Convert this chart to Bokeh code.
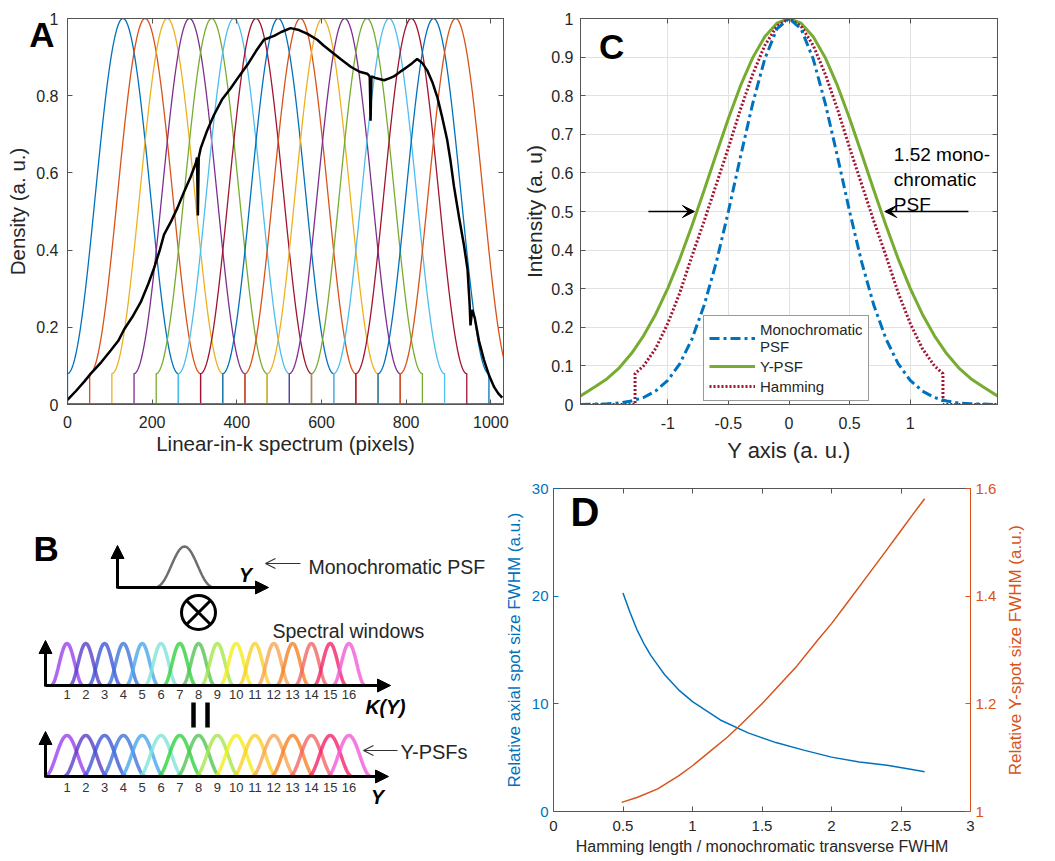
import numpy as np
from bokeh.plotting import figure
from bokeh.models import (Range1d, LinearAxis, Legend, LegendItem, Label, Arrow,
                          VeeHead, OpenHead, NormalHead, FixedTicker, CustomJSTickFormatter)
from bokeh.layouts import column, row
from bokeh.embed import file_html
from bokeh.resources import INLINE
from bokeh.core.properties import value

FONT = "Liberation Sans"
INK = "#262626"
FRAME = "#555555"
FMT = "return (Math.round(tick*1000)/1000).toString();"

# ---------------- Panel A data ----------------
a_x_ticks = [0, 200, 400, 600, 800, 1000]
a_y_ticks = [0, 0.2, 0.4, 0.6, 0.8, 1]
a_window_starts = [0.0, 52.4, 104.8, 157.2, 209.6, 262.0, 314.4, 366.8,
                   419.2, 471.6, 524.0, 576.4, 628.8, 681.2, 733.6, 786.0]
a_window_length = 262.0
a_window_pedestal = 0.08
a_window_colors = ["#0072BD", "#D95319", "#EDB120", "#7E2F8E", "#77AC30", "#4DBEEE", "#A2142F",
                   "#0072BD", "#D95319", "#EDB120", "#7E2F8E", "#77AC30", "#4DBEEE", "#A2142F",
                   "#0072BD", "#D95319"]
a_spec_x = [0, 20, 40, 55, 80, 102, 120, 134, 155, 173, 190, 205, 218, 228, 245, 260, 275, 291,
            303, 306, 308, 310, 315, 330, 346, 365, 386, 405, 425, 445, 464, 488, 505, 527, 547,
            567, 590, 605, 622, 645, 669, 690, 708, 714, 716, 718, 730, 748, 760, 771, 790, 803,
            815, 826, 838, 850, 862, 874, 885, 897, 905, 913, 925, 937, 945, 950, 952, 956, 962,
            972, 984, 996, 1008, 1018, 1027]
a_spec_y = [0.012, 0.035, 0.06, 0.08, 0.11, 0.14, 0.165, 0.195, 0.23, 0.265, 0.31, 0.355, 0.40,
            0.44, 0.475, 0.51, 0.55, 0.59, 0.625, 0.64, 0.49, 0.64, 0.665, 0.71, 0.75, 0.79, 0.82,
            0.85, 0.88, 0.915, 0.945, 0.955, 0.965, 0.975, 0.97, 0.96, 0.945, 0.93, 0.915, 0.895,
            0.875, 0.862, 0.857, 0.85, 0.735, 0.85, 0.845, 0.84, 0.845, 0.85, 0.865, 0.875, 0.885,
            0.895, 0.885, 0.865, 0.835, 0.795, 0.745, 0.685, 0.63, 0.565, 0.485, 0.41, 0.35, 0.26,
            0.205, 0.245, 0.225, 0.165, 0.115, 0.075, 0.045, 0.028, 0.018]

# ---------------- Panel C data ----------------
c_x_ticks = [-1, -0.5, 0, 0.5, 1]
c_y_ticks = [0, 0.1, 0.2, 0.3, 0.4, 0.5, 0.6, 0.7, 0.8, 0.9, 1]
c_x_half = [0, 0.1, 0.2, 0.3, 0.4, 0.5, 0.6, 0.7, 0.8, 0.9, 1.0, 1.1, 1.2, 1.3, 1.4, 1.5, 1.6, 1.72]
c_mono_half = [1, 0.973, 0.895, 0.779, 0.642, 0.5, 0.368, 0.257, 0.170, 0.106, 0.0625, 0.035,
               0.018, 0.009, 0.004, 0.002, 0.001, 0.0]
c_ypsf_half = [1, 0.988, 0.953, 0.898, 0.826, 0.741, 0.649, 0.555, 0.464, 0.378, 0.301, 0.234,
               0.178, 0.132, 0.095, 0.067, 0.046, 0.022]
c_ham_x_half = [0, 0.1, 0.2, 0.3, 0.4, 0.5, 0.6, 0.7, 0.8, 0.9, 1.0, 1.1, 1.2, 1.27, 1.27, 1.4, 1.72]
c_ham_half = [1, 0.98, 0.93, 0.855, 0.765, 0.665, 0.57, 0.475, 0.385, 0.29, 0.21, 0.145, 0.10,
              0.08, 0.0, 0.0, 0.0]
c_legend_labels = ["Monochromatic\nPSF", "Y-PSF", "Hamming"]

# ---------------- Panel D data ----------------
d_x_ticks = [0, 0.5, 1, 1.5, 2, 2.5, 3]
d_left_ticks = [0, 10, 20, 30]
d_right_ticks = [1, 1.2, 1.4, 1.6]
d_axial_x = [0.5, 0.55, 0.6, 0.65, 0.7, 0.75, 0.8, 0.9, 1.0, 1.2, 1.4, 1.6, 1.8, 2.0, 2.2, 2.4, 2.6, 2.67]
d_axial_y = [20.3, 18.5, 16.9, 15.6, 14.5, 13.6, 12.7, 11.3, 10.2, 8.5, 7.3, 6.4, 5.7, 5.05, 4.6,
             4.3, 3.85, 3.7]
d_yspot_x = [0.49, 0.6, 0.75, 0.9, 1.0, 1.1, 1.25, 1.35, 1.5, 1.6, 1.75, 1.9, 2.0, 2.1, 2.25,
             2.4, 2.5, 2.6, 2.67]
d_yspot_y = [1.017, 1.026, 1.042, 1.066, 1.085, 1.106, 1.138, 1.162, 1.200, 1.228, 1.270, 1.318,
             1.349, 1.383, 1.435, 1.487, 1.522, 1.557, 1.581]

# ---------------- Panel B data ----------------
b_window_labels = ["1", "2", "3", "4", "5", "6", "7", "8", "9", "10", "11", "12", "13", "14", "15", "16"]
b_window_colors = ["#9a40f0", "#5a3fc8", "#3f55d8", "#3f75d8", "#4aa6ee", "#7fe3da", "#2fd23f",
                   "#55c455", "#a6e64a", "#f2ee1c", "#f9cf2a", "#f9a453", "#f68224", "#f36565",
                   "#f2266a", "#f35ad8"]


def base_fig(w, h, xr, yr, ml, mr, mt, mb):
    p = figure(width=w, height=h, x_range=xr, y_range=yr, output_backend="svg",
               toolbar_location=None, min_border_left=ml, min_border_right=mr,
               min_border_top=mt, min_border_bottom=mb)
    p.background_fill_color = "white"
    p.border_fill_color = "white"
    p.outline_line_color = FRAME
    return p


def style_axis(ax, ticks, color=INK, size="16px", standoff=8, label=None,
               label_size="17px", label_standoff=5, show=True, line_color=FRAME):
    ax.ticker = FixedTicker(ticks=ticks)
    ax.formatter = CustomJSTickFormatter(code=FMT if show else "return '';")
    ax.major_tick_in = 5
    ax.major_tick_out = 0
    ax.minor_tick_in = 0
    ax.minor_tick_out = 0
    ax.axis_line_color = line_color
    ax.major_tick_line_color = line_color
    ax.major_label_text_color = color
    ax.major_label_text_font = FONT
    ax.major_label_text_font_size = size if show else "0px"
    ax.major_label_standoff = standoff if show else 0
    if label:
        ax.axis_label = label
        ax.axis_label_text_font = FONT
        ax.axis_label_text_font_style = "normal"
        ax.axis_label_text_font_size = label_size
        ax.axis_label_text_color = color
        ax.axis_label_standoff = label_standoff


def panel_letter(p, letter, x, y, size):
    p.add_layout(Label(x=x, y=y, text=letter, text_font=FONT, text_font_style="bold",
                       text_font_size=size, text_color="black", text_baseline="middle"))


# ================= Panel A =================
pA = base_fig(520, 470, Range1d(0, 1030), Range1d(0, 1), 67, 17, 18, 66)
pA.grid.visible = False
style_axis(pA.xaxis[0], a_x_ticks, standoff=11, label="Linear-in-k spectrum (pixels)",
           label_size="20.5px", label_standoff=1)
style_axis(pA.yaxis[0], a_y_ticks, standoff=9, label="Density (a. u.)", label_size="20.5px",
           label_standoff=4)
axA_top = LinearAxis()
style_axis(axA_top, a_x_ticks, show=False)
pA.add_layout(axA_top, "above")
axA_right = LinearAxis()
style_axis(axA_right, a_y_ticks, show=False)
pA.add_layout(axA_right, "right")
# panel letter "A", drawn as the single label of an extra (outer) left axis
axA_letter = LinearAxis(ticker=FixedTicker(ticks=[0.958]),
                        formatter=CustomJSTickFormatter(code="return 'A';"),
                        major_label_text_font=FONT, major_label_text_font_style="bold",
                        major_label_text_font_size="35px", major_label_text_color="black",
                        major_label_standoff=-51, axis_line_color=None,
                        major_tick_line_color=None, minor_tick_line_color=None,
                        major_tick_in=0, major_tick_out=0, minor_tick_in=0, minor_tick_out=0)
pA.add_layout(axA_letter, "left")

t = np.linspace(0, 1, 121)
for s, col in zip(a_window_starts, a_window_colors):
    e = s + a_window_length
    shape = (1 - a_window_pedestal) / 2
    xs = np.concatenate([[-20, s, s], s + t * a_window_length, [e, e, 1100]])
    ys = np.concatenate([[0, 0, a_window_pedestal],
                         (1 - shape) - shape * np.cos(2 * np.pi * t),
                         [a_window_pedestal, 0, 0]])
    pA.line(xs, ys, line_color=col, line_width=1.3)
pA.line(a_spec_x, a_spec_y, line_color="black", line_width=2.5)

# ================= Panel C =================
pC = base_fig(532, 470, Range1d(-1.72, 1.72), Range1d(0, 1), 59, 55, 18, 66)
style_axis(pC.xaxis[0], c_x_ticks, standoff=12, label="Y axis (a. u.)", label_size="22px",
           label_standoff=6)
style_axis(pC.yaxis[0], c_y_ticks, standoff=7, label="Intensity (a. u)", label_size="21px",
           label_standoff=2)
axC_top = LinearAxis()
style_axis(axC_top, c_x_ticks, show=False)
pC.add_layout(axC_top, "above")
axC_right = LinearAxis()
style_axis(axC_right, c_y_ticks, show=False)
pC.add_layout(axC_right, "right")
pC.grid.grid_line_color = "#e2e2e2"
pC.grid.grid_line_width = 1

cx = [-v for v in reversed(c_x_half)] + c_x_half[1:]
c_mono = list(reversed(c_mono_half)) + c_mono_half[1:]
c_ypsf = list(reversed(c_ypsf_half)) + c_ypsf_half[1:]
chx = [-v for v in reversed(c_ham_x_half)] + c_ham_x_half[1:]
c_ham = list(reversed(c_ham_half)) + c_ham_half[1:]

r_ypsf = pC.line(cx, c_ypsf, line_color="#77AC30", line_width=3)
r_ham = pC.line(chx, c_ham, line_color="#A2142F", line_width=3, line_dash="2 2")
r_mono = pC.line(cx, c_mono, line_color="#0072BD", line_width=3, line_dash="10 4 3 4")

leg = Legend(items=[LegendItem(label=c_legend_labels[0], renderers=[r_mono]),
                    LegendItem(label=c_legend_labels[1], renderers=[r_ypsf]),
                    LegendItem(label=c_legend_labels[2], renderers=[r_ham])],
             location=(123, 3))
leg.label_text_font = FONT
leg.label_text_font_size = "15px"
leg.label_text_color = INK
leg.glyph_width = 46
leg.glyph_height = 18
leg.label_height = 18
leg.label_standoff = 5
leg.padding = 5
leg.spacing = 2
leg.margin = 0
leg.border_line_color = "#333333"
leg.border_line_width = 1
leg.background_fill_color = "white"
leg.background_fill_alpha = 1
pC.add_layout(leg)

pC.add_layout(Arrow(end=VeeHead(size=12, fill_color="black", line_color="black"),
                    x_start=-1.16, y_start=0.5, x_end=-0.78, y_end=0.5,
                    line_color="black", line_width=1.3))
pC.add_layout(Arrow(end=VeeHead(size=12, fill_color="black", line_color="black"),
                    x_start=1.48, y_start=0.5, x_end=0.79, y_end=0.5,
                    line_color="black", line_width=1.3))
pC.add_layout(Label(x=0.865, y=0.675, text="1.52 mono-\nchromatic\nPSF", text_font=FONT,
                    text_font_size="19px", text_color="black", text_baseline="top",
                    text_line_height=1.2))
panel_letter(pC, "C", -1.567, 0.928, "35px")

# ================= Panel B (schematic, frame in page pixels) =================
pB = figure(width=500, height=389, x_range=Range1d(0, 500), y_range=Range1d(811, 488),
            output_backend="svg", toolbar_location=None, min_border_left=0,
            min_border_right=0, min_border_top=18, min_border_bottom=48,
            x_axis_location=None, y_axis_location=None)
pB.outline_line_color = None
pB.grid.grid_line_color = None
pB.background_fill_color = "white"
pB.border_fill_color = "white"


def bold_arrow(p, x0, y0, x1, y1):
    p.add_layout(Arrow(end=NormalHead(size=13, fill_color="black", line_color="black"),
                       x_start=x0, y_start=y0, x_end=x1, y_end=y1,
                       line_color="black", line_width=3))


def thin_arrow(p, x0, y0, x1, y1):
    p.add_layout(Arrow(end=OpenHead(size=10, line_color="#333333", line_width=1.2),
                       x_start=x0, y_start=y0, x_end=x1, y_end=y1,
                       line_color="#333333", line_width=1.2))


def txt(p, x, y, s, size, style="normal", align="left", color="#262626", baseline="middle"):
    p.text(x=[x], y=[y], text=[s], text_font=value(FONT), text_font_size=size,
           text_font_style=style, text_align=align, text_baseline=baseline, text_color=color)


tb = np.linspace(-1, 1, 61)
pB.line(184 + 31 * tb, 587 - 41 * (0.5 + 0.5 * np.cos(np.pi * tb)) ** 1.3,
        line_color="#6e6e6e", line_width=2.5)
bold_arrow(pB, 117, 588, 117, 545)
bold_arrow(pB, 117, 587, 268, 587)
txt(pB, 245, 574, "Y", "19.5px", "bold italic", "center", "black")
thin_arrow(pB, 300, 563, 265, 563)
txt(pB, 308, 566, "Monochromatic PSF", "19.5px")
pB.scatter([198], [612], marker="circle_x", size=34, line_width=3, line_color="black",
           fill_color=None)
txt(pB, 272, 630, "Spectral windows", "19.5px")

centers = [66.5 + 18.8 * i for i in range(len(b_window_labels))]
for c, col in zip(centers, b_window_colors):
    pB.line(c + 16 * tb, 685 - 42 * (0.5 + 0.5 * np.cos(np.pi * tb)), line_color=col,
            line_width=3.5, line_alpha=0.8)
bold_arrow(pB, 45, 686, 45, 640)
bold_arrow(pB, 45, 685, 390, 685)
pB.text(x=centers, y=[694] * len(centers), text=b_window_labels, text_font=value(FONT),
        text_font_size="13px", text_align="center", text_baseline="middle",
        text_color="#333333")
txt(pB, 365, 706, "K(Y)", "19.5px", "bold italic", "left", "black")

pB.segment(x0=[193, 207], y0=[702, 702], x1=[193, 207], y1=[727, 727],
           line_color="black", line_width=4.5)

for c, col in zip(centers, b_window_colors):
    pB.line(c + 22 * tb, 776 - 41 * (0.5 + 0.5 * np.cos(np.pi * tb)), line_color=col,
            line_width=3.5, line_alpha=0.8)
bold_arrow(pB, 45, 777, 45, 731)
bold_arrow(pB, 45, 776, 388, 776)
pB.text(x=centers, y=[787] * len(centers), text=b_window_labels, text_font=value(FONT),
        text_font_size="13px", text_align="center", text_baseline="middle",
        text_color="#333333")
txt(pB, 377, 796, "Y", "19.5px", "bold italic", "center", "black")
thin_arrow(pB, 397, 750, 363, 750)
txt(pB, 400, 751, "Y-PSFs", "20px")
txt(pB, 33, 548, "B", "35px", "bold", "left", "black")

# ================= Panel D =================
BLUE = "#0072BD"
ORANGE = "#D95319"
pD = base_fig(502, 389, Range1d(0, 3), Range1d(0, 30), 53, 32, 18, 48)
pD.grid.visible = False
pD.extra_y_ranges = {"right": Range1d(1, 1.6)}
style_axis(pD.xaxis[0], d_x_ticks, size="15px", standoff=9,
           label="Hamming length / monochromatic transverse FWHM", label_size="16px",
           label_standoff=4)
style_axis(pD.yaxis[0], d_left_ticks, color=BLUE, size="15px", standoff=5,
           label="Relative axial spot size FWHM (a.u.)", label_size="17px", label_standoff=5,
           line_color=BLUE)
axD_right = LinearAxis(y_range_name="right")
style_axis(axD_right, d_right_ticks, color=ORANGE, size="15px", standoff=5, line_color=ORANGE)
pD.add_layout(axD_right, "right")
axD_top = LinearAxis()
style_axis(axD_top, d_x_ticks, show=False)
pD.add_layout(axD_top, "above")
pD.outline_line_color = None

pD.line(d_axial_x, d_axial_y, line_color=BLUE, line_width=1.5)
pD.line(d_yspot_x, d_yspot_y, line_color=ORANGE, line_width=1.5, y_range_name="right")
panel_letter(pD, "D", 0.122, 27.8, "40px")

# narrow companion figure carrying the right-hand axis title (reads bottom-to-top)
pDR = figure(width=50, height=389, x_range=Range1d(0, 1), y_range=Range1d(1, 1.6),
             output_backend="svg", toolbar_location=None, min_border_left=24,
             min_border_right=0, min_border_top=18, min_border_bottom=48,
             x_axis_location=None)
pDR.outline_line_color = None
pDR.grid.grid_line_color = None
pDR.background_fill_color = "white"
pDR.border_fill_color = "white"
axR = pDR.yaxis[0]
axR.ticker = FixedTicker(ticks=[])
axR.axis_line_color = None
axR.major_tick_line_color = None
axR.minor_tick_line_color = None
axR.major_label_text_font_size = "0px"
axR.major_label_standoff = 0
axR.major_tick_in = 0
axR.major_tick_out = 0
axR.axis_label = "Relative Y-spot size FWHM (a.u.)"
axR.axis_label_text_font = FONT
axR.axis_label_text_font_style = "normal"
axR.axis_label_text_font_size = "17px"
axR.axis_label_text_color = ORANGE
axR.axis_label_standoff = 2

layout = column(row(pA, pC), row(pB, pD, pDR))
open("out.html", "w").write(file_html(layout, INLINE))
